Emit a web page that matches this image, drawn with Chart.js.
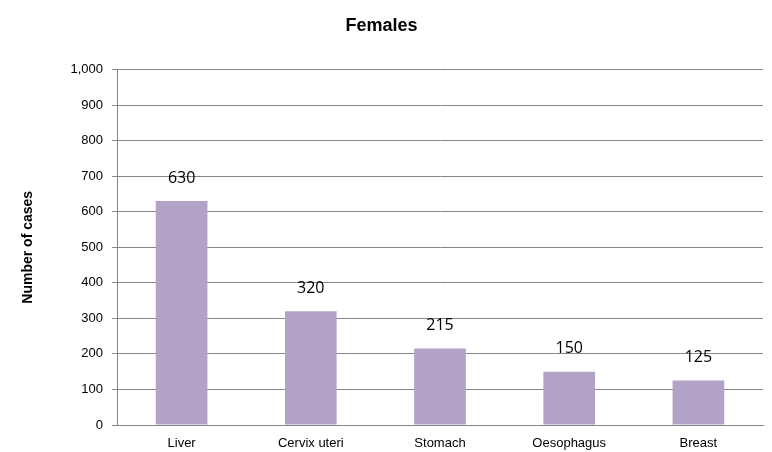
<!DOCTYPE html>
<html>
<head>
<meta charset="utf-8">
<script src="https://cdn.jsdelivr.net/npm/chart.js@4"></script>
<style>
  html, body { margin: 0; padding: 0; background: #fff; }
  #wrap { width: 772px; height: 452px; }
</style>
</head>
<body>
<div id="wrap"><canvas id="myChart"></canvas></div>
<script>
const categories = ['Liver', 'Cervix uteri', 'Stomach', 'Oesophagus', 'Breast'];
const cases = [630, 320, 215, 150, 125];

// value labels above each bar
const valueLabels = {
  id: 'valueLabels',
  afterDatasetsDraw(chart) {
    const { ctx } = chart;
    const meta = chart.getDatasetMeta(0);
    ctx.save();
    ctx.font = '16px "Open Sans"';
    ctx.fillStyle = '#000';
    ctx.textAlign = 'center';
    ctx.textBaseline = 'middle';
    meta.data.forEach((bar, i) => {
      ctx.fillText(cases[i], bar.x, bar.y - 23);
    });
    ctx.restore();
  }
};

const ctx = document.getElementById('myChart').getContext('2d');

new Chart(ctx, {
  type: 'bar',
  data: {
    labels: categories,
    datasets: [{
      label: 'Number of cases',
      data: cases,
      backgroundColor: '#b3a2c7',
      categoryPercentage: 1,
      barPercentage: 0.4
    }]
  },
  options: {
    responsive: true,
    maintainAspectRatio: false,
    animation: false,
    layout: { padding: { right: 9, left: 0, top: 0, bottom: 0 } },
    plugins: {
      legend: { display: false },
      tooltip: { enabled: false },
      title: {
        display: true,
        text: 'Females',
        color: '#000',
        font: { family: 'Liberation Sans', size: 18, weight: 'bold' },
        padding: { top: 15, bottom: 33 }
      }
    },
    scales: {
      x: {
        grid: { display: false },
        border: { display: true, color: '#868686' },
        ticks: {
          color: '#000',
          font: { family: 'Liberation Sans', size: 13 },
          padding: 3
        },
        afterFit(scale) { scale.height = 27; }
      },
      y: {
        min: 0,
        max: 1000,
        ticks: {
          stepSize: 100,
          color: '#000',
          font: { family: 'Liberation Sans', size: 13 },
          padding: 9,
          callback: v => v.toLocaleString('en-US')
        },
        grid: { color: '#868686', tickLength: 5 },
        border: { color: '#868686' },
        title: {
          display: true,
          text: 'Number of cases',
          color: '#000',
          font: { family: 'Liberation Sans', size: 14, weight: 'bold' },
          padding: { top: 20, bottom: 0 }
        },
        afterFit(scale) { scale.width = 117; }
      }
    }
  },
  plugins: [valueLabels]
});
</script>
</body>
</html>
